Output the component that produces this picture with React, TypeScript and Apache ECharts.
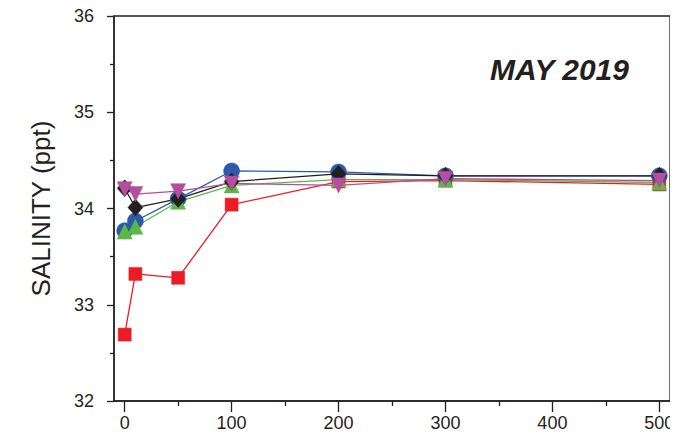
import React, { useEffect, useRef } from "react";
import * as echarts from "echarts";

// Sampling depths (x) and salinity readings for each station
const depths = [0, 10, 50, 100, 200, 300, 500];
const redSquares = [32.69, 33.32, 33.28, 34.04, 34.28, 34.29, 34.25];
const blueCircles = [33.77, 33.87, 34.1, 34.39, 34.38, 34.34, 34.34];
const greenTriangles = [33.76, 33.81, 34.07, 34.24, 34.3, 34.3, 34.27];
const blackDiamonds = [34.21, 34.01, 34.1, 34.28, 34.36, 34.34, 34.34];
const magentaTriangles = [34.2, 34.15, 34.18, 34.26, 34.24, 34.31, 34.29];

const xMajorTicks = [0, 100, 200, 300, 400, 500];
const xMinorTicks = [50, 150, 250, 350, 450];

const INK = "#231f20";
const FONT = "'Liberation Sans', Arial, Helvetica, sans-serif";

const pair = (vals: number[]) => depths.map((d, i) => [d, vals[i]]);

export default function App() {
  const ref = useRef<HTMLDivElement>(null);

  useEffect(() => {
    if (!ref.current) return;
    const chart = echarts.init(ref.current, undefined, { renderer: "svg" });

    const line = (
      name: string,
      vals: number[],
      color: string,
      symbol: string,
      size: number | number[],
      rotate = 0
    ) => ({
      name,
      type: "line",
      data: pair(vals),
      symbol,
      symbolSize: size,
      symbolRotate: rotate,
      showAllSymbol: true,
      lineStyle: { color, width: 1.3 },
      itemStyle: { color, borderColor: color, borderWidth: 0.5 },
      emphasis: { disabled: true },
    });

    chart.setOption({
      animation: false,
      title: {
        text: "MAY 2019",
        left: 485,
        top: 49,
        textStyle: {
          fontFamily: FONT,
          fontSize: 30,
          fontStyle: "italic",
          fontWeight: "bold",
          color: INK,
        },
      },
      grid: {
        left: 114,
        right: 8,
        top: 16,
        bottom: 38,
        show: true,
        borderColor: INK,
        borderWidth: 1.3,
      },
      xAxis: [
        {
          type: "value",
          min: -10,
          max: 510,
          axisLine: { show: true, onZero: false, lineStyle: { color: INK, width: 1.5 } },
          axisTick: {
            show: true,
            customValues: xMajorTicks,
            length: 11,
            lineStyle: { color: INK, width: 1.3 },
          },
          axisLabel: {
            customValues: xMajorTicks,
            margin: 13,
            fontSize: 18,
            fontFamily: FONT,
            color: INK,
          },
          splitLine: { show: false },
        },
        {
          type: "value",
          position: "bottom",
          min: -10,
          max: 510,
          axisLine: { show: false, onZero: false },
          axisTick: {
            show: true,
            customValues: xMinorTicks,
            length: 5,
            lineStyle: { color: INK, width: 1.3 },
          },
          axisLabel: { show: false },
          splitLine: { show: false },
        },
      ],
      yAxis: {
        type: "value",
        min: 32,
        max: 36,
        interval: 1,
        name: "SALINITY (ppt)",
        nameLocation: "middle",
        nameGap: 60,
        nameTextStyle: { fontFamily: FONT, fontSize: 26, color: INK },
        axisLine: { show: true, onZero: false, lineStyle: { color: INK, width: 1.5 } },
        axisTick: { show: true, length: 7, lineStyle: { color: INK, width: 1.3 } },
        minorTick: { show: true, splitNumber: 2, length: 4, lineStyle: { color: INK, width: 1.3 } },
        axisLabel: { margin: 20, fontSize: 18, fontFamily: FONT, color: INK },
        splitLine: { show: false },
        minorSplitLine: { show: false },
      },
      series: [
        line("red", redSquares, "#ed1c24", "rect", 13),
        line("blue", blueCircles, "#2b5aa8", "circle", 16),
        line("green", greenTriangles, "#5bb847", "triangle", 15),
        line("black", blackDiamonds, INK, "diamond", [15, 17]),
        line("magenta", magentaTriangles, "#b44f9f", "triangle", 15, 180),
      ],
    });

    return () => chart.dispose();
  }, []);

  return <div ref={ref} style={{ width: 678, height: 439, margin: -8 }} />;
}
